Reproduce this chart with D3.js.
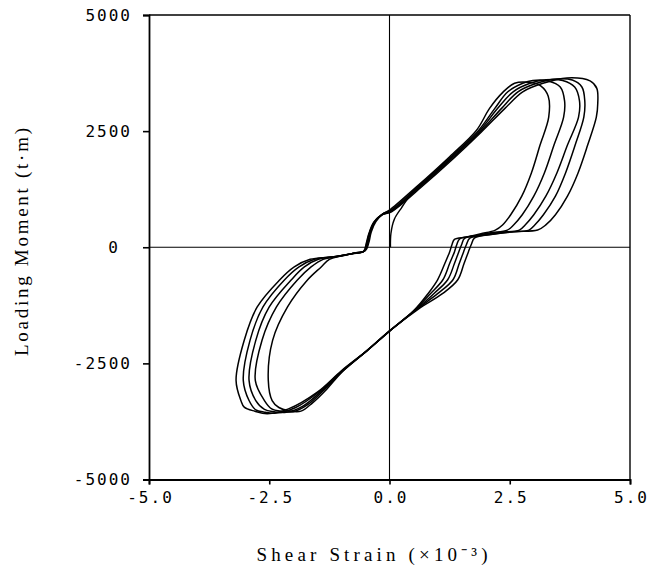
<!DOCTYPE html>
<html>
<head>
<meta charset="utf-8">
<script src="https://cdn.jsdelivr.net/npm/d3@7"></script>
<style>
  html, body { margin: 0; padding: 0; background: #fff; }
  svg { display: block; }
  .tick text { font-family: "DejaVu Sans Mono", monospace; font-size: 16px; letter-spacing: 2px; fill: #000; }
  .tick line { stroke: #000; stroke-width: 1.6; }
  .title { font-family: "Liberation Serif", "Times New Roman", serif; font-size: 19px; fill: #000; }
</style>
</head>
<body>
<svg id="chart" width="653" height="569"></svg>
<script>
// Axis tick values
const xTicks = [-5, -2.5, 0, 2.5, 5];
const yTicks = [-5000, -2500, 0, 2500, 5000];

// Hysteresis cycles: [shear strain (x10^-3), loading moment (t·m)], innermost to outermost
const cycle1 = [[0,800],[0.56,1300],[1.25,1950],[1.81,2520],[2.08,2990],[2.36,3340],[2.60,3530],[2.90,3550],[3.15,3470],[3.30,3250],[3.31,2800],[3.13,2200],[2.95,1600],[2.75,1100],[2.52,700],[2.35,480],[2.20,370],[1.90,290],[1.60,220],[1.35,170],[1.30,60],[1.25,-100],[1.15,-350],[1.00,-700],[0.80,-1000],[0.50,-1370],[0,-1800],[-0.50,-2250],[-1.00,-2700],[-1.30,-3050],[-1.60,-3350],[-1.84,-3528],[-2.10,-3520],[-2.30,-3450],[-2.44,-3300],[-2.52,-2866],[-2.43,-2004],[-2.12,-1286],[-1.71,-711],[-1.42,-424],[-1.25,-260],[-1.00,-190],[-0.70,-120],[-0.50,-70],[-0.43,100],[-0.38,330],[-0.28,560],[-0.12,730]];
const cycle2 = [[0.02,790],[0.58,1290],[1.27,1940],[1.84,2500],[2.19,2990],[2.46,3347],[2.77,3530],[2.98,3590],[3.30,3580],[3.55,3450],[3.64,3150],[3.62,2800],[3.42,2200],[3.22,1600],[3.00,1100],[2.76,700],[2.58,480],[2.45,370],[2.10,310],[1.75,240],[1.46,180],[1.40,60],[1.35,-100],[1.25,-350],[1.11,-700],[0.85,-1000],[0.52,-1360],[0.02,-1790],[-0.48,-2240],[-1.00,-2690],[-1.35,-3060],[-1.70,-3390],[-2.00,-3540],[-2.25,-3530],[-2.45,-3480],[-2.60,-3300],[-2.79,-2866],[-2.65,-2004],[-2.35,-1286],[-1.92,-711],[-1.63,-424],[-1.38,-260],[-1.05,-195],[-0.72,-125],[-0.51,-75],[-0.45,100],[-0.40,320],[-0.30,550],[-0.14,720]];
const cycle3 = [[0.03,780],[0.60,1285],[1.29,1930],[1.86,2490],[2.25,2990],[2.57,3347],[2.92,3530],[3.25,3605],[3.60,3590],[3.85,3450],[3.95,3150],[3.93,2800],[3.70,2200],[3.48,1600],[3.25,1100],[3.00,700],[2.82,480],[2.70,370],[2.30,320],[1.90,260],[1.56,190],[1.50,60],[1.44,-100],[1.35,-350],[1.21,-700],[0.92,-1000],[0.54,-1350],[0.03,-1780],[-0.47,-2230],[-1.00,-2680],[-1.40,-3080],[-1.80,-3420],[-2.15,-3555],[-2.40,-3540],[-2.60,-3490],[-2.78,-3300],[-2.92,-2866],[-2.78,-2004],[-2.50,-1286],[-2.05,-711],[-1.77,-424],[-1.48,-260],[-1.10,-200],[-0.74,-130],[-0.52,-80],[-0.46,100],[-0.41,310],[-0.31,545],[-0.15,710]];
const cycle4 = [[0.04,775],[0.62,1280],[1.31,1920],[1.88,2480],[2.33,2990],[2.67,3347],[3.06,3530],[3.45,3622],[3.80,3600],[4.00,3450],[4.06,3150],[4.04,2800],[3.86,2200],[3.66,1600],[3.45,1100],[3.20,700],[3.02,480],[2.90,370],[2.50,330],[2.05,270],[1.67,195],[1.60,60],[1.54,-100],[1.45,-350],[1.32,-700],[1.00,-1000],[0.56,-1340],[0.04,-1770],[-0.46,-2220],[-1.00,-2670],[-1.45,-3100],[-1.95,-3450],[-2.35,-3570],[-2.60,-3550],[-2.78,-3500],[-2.92,-3300],[-3.04,-2866],[-2.90,-2004],[-2.63,-1286],[-2.19,-711],[-1.88,-424],[-1.56,-260],[-1.15,-205],[-0.76,-135],[-0.53,-85],[-0.47,100],[-0.42,300],[-0.32,540],[-0.16,700]];
const cycle5 = [[0.05,770],[0.64,1275],[1.33,1910],[1.90,2470],[2.40,2990],[2.77,3347],[3.19,3530],[3.69,3645],[4.17,3580],[4.31,3420],[4.33,3100],[4.30,2800],[4.12,2200],[3.92,1600],[3.70,1100],[3.45,700],[3.25,480],[3.08,370],[2.60,335],[2.15,280],[1.77,200],[1.70,60],[1.64,-100],[1.55,-350],[1.42,-700],[1.10,-1000],[0.60,-1330],[0.05,-1760],[-0.45,-2210],[-1.00,-2660],[-1.50,-3120],[-2.10,-3480],[-2.54,-3584],[-2.80,-3530],[-3.02,-3442],[-3.09,-3300],[-3.19,-2866],[-3.02,-2004],[-2.75,-1286],[-2.29,-711],[-1.98,-424],[-1.65,-260],[-1.20,-210],[-0.78,-140],[-0.54,-90],[-0.48,100],[-0.43,290],[-0.33,535],[-0.17,690]];
// Initial loading branch from the origin
const initialLoading = [[0.02,0],[0.03,300],[0.10,600],[0.25,850],[0.42,1100],[0.62,1330]];

const cycles = [cycle1, cycle2, cycle3, cycle4, cycle5];

const svg = d3.select("#chart");
const x = d3.scaleLinear().domain([-5, 5]).range([149, 630]);
const y = d3.scaleLinear().domain([-5000, 5000]).range([479.5, 15]);

// Zero reference lines
svg.append("line").attr("x1", x(-5)).attr("x2", x(5)).attr("y1", y(0)).attr("y2", y(0))
  .attr("stroke", "#000").attr("stroke-width", 1.1);
svg.append("line").attr("x1", x(0)).attr("x2", x(0)).attr("y1", y(5000)).attr("y2", y(-5000))
  .attr("stroke", "#000").attr("stroke-width", 1.1);

// Frame: top and right borders
svg.append("line").attr("x1", x(-5)).attr("x2", x(5)).attr("y1", y(5000)).attr("y2", y(5000))
  .attr("stroke", "#000").attr("stroke-width", 1.6);
svg.append("line").attr("x1", x(5)).attr("x2", x(5)).attr("y1", y(5000)).attr("y2", y(-5000))
  .attr("stroke", "#000").attr("stroke-width", 1.4);

// Bottom axis
const gx = svg.append("g").attr("transform", `translate(0,${y(-5000)})`)
  .call(d3.axisBottom(x).tickValues(xTicks).tickSize(5).tickPadding(7)
    .tickFormat(d => d.toFixed(1)));
gx.select(".domain").attr("stroke", "#000").attr("stroke-width", 1.8);
gx.selectAll(".tick text").attr("dx", "1px");

// Left axis
const gy = svg.append("g").attr("transform", `translate(${x(-5)},0)`)
  .call(d3.axisLeft(y).tickValues(yTicks).tickSize(6).tickPadding(11)
    .tickFormat(d => String(d)));
gy.select(".domain").attr("stroke", "#000").attr("stroke-width", 1.8);
gy.selectAll(".tick text").filter(d => d === 0).attr("dx", "-12px");

// Hysteresis loops
const line = d3.line().x(d => x(d[0])).y(d => y(d[1]));
svg.append("g").selectAll("path").data(cycles).join("path")
  .attr("d", d => line.curve(d3.curveCatmullRomClosed.alpha(0.5))(d))
  .attr("fill", "none").attr("stroke", "#000").attr("stroke-width", 1.5)
  .attr("stroke-linejoin", "round");
svg.append("path")
  .attr("d", line.curve(d3.curveCatmullRom.alpha(0.5))(initialLoading))
  .attr("fill", "none").attr("stroke", "#000").attr("stroke-width", 1.4);

// Axis titles
svg.append("text").attr("class", "title")
  .attr("x", 372).attr("y", 561).attr("text-anchor", "middle")
  .attr("textLength", 231).attr("lengthAdjust", "spacing")
  .text("Shear Strain (×10⁻³)");
svg.append("text").attr("class", "title")
  .attr("transform", "translate(28,242) rotate(-90)").attr("text-anchor", "middle")
  .attr("textLength", 228).attr("lengthAdjust", "spacing")
  .text("Loading Moment (t·m)");
</script>
</body>
</html>
